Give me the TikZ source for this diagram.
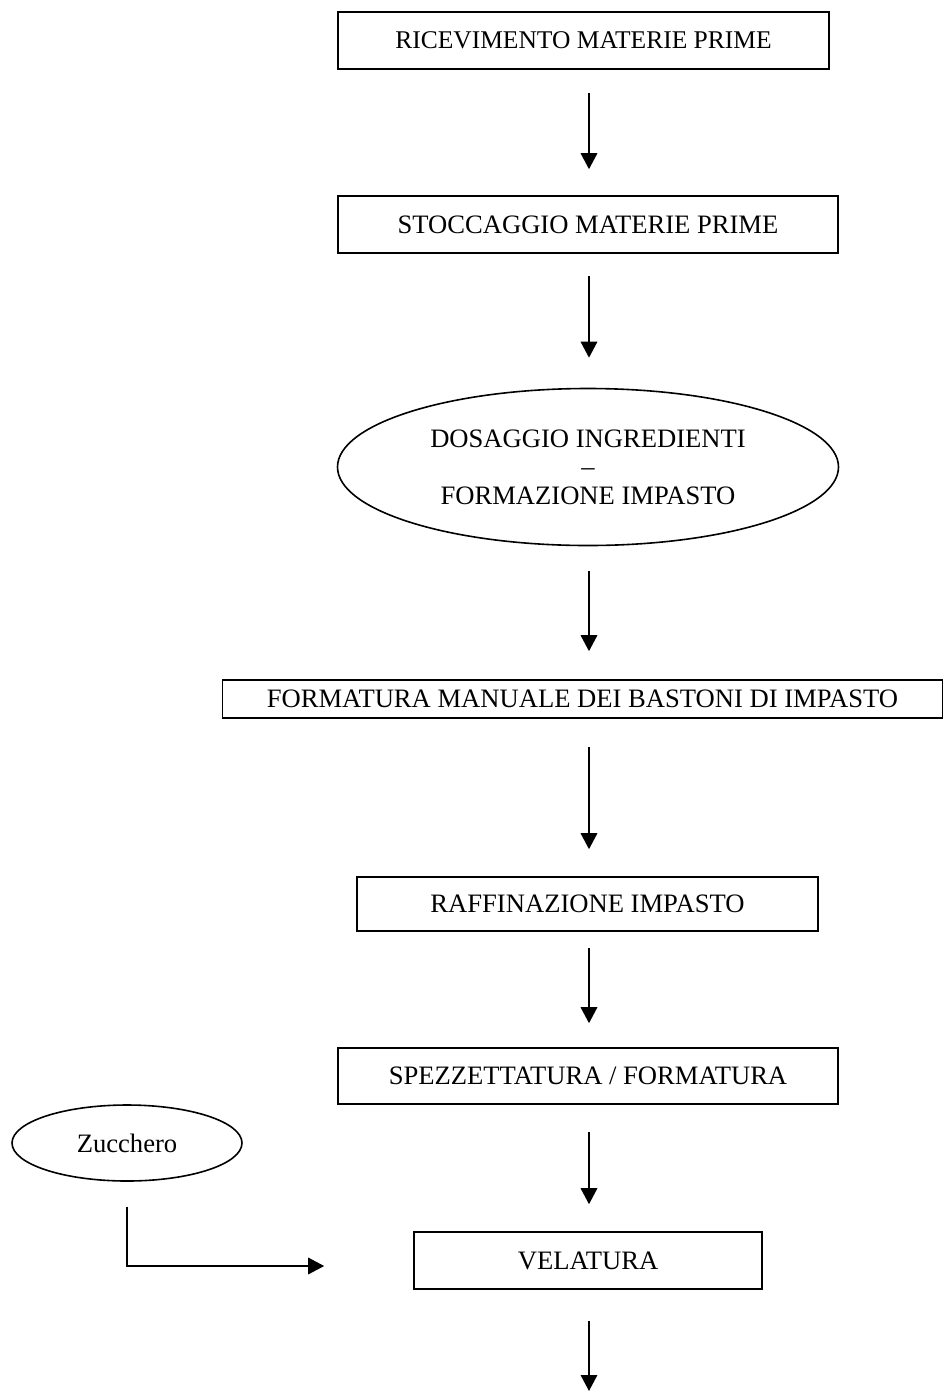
\documentclass[tikz,border=0pt]{standalone}
\usepackage{fontspec}
\setmainfont{Liberation Serif}
\usetikzlibrary{arrows.meta,shapes.geometric}
\begin{document}
\begin{tikzpicture}[x=1pt,y=-1pt,
  every node/.style={font=\fontsize{26.6}{28.5}\selectfont, inner sep=0pt, align=center},
  box/.style={draw, line width=1.6pt, rectangle},
  oval/.style={draw, line width=1.6pt, ellipse},
  arr/.style={line width=1.7pt, -{Triangle[width=16.5pt,length=16pt]}}]
\useasboundingbox (0,0) rectangle (944,1393);
\node[box, minimum width=491pt, minimum height=57pt, font=\fontsize{25.5}{28.5}\selectfont] (b1) at (583.5,40.5) {RICEVIMENTO MATERIE PRIME};
\node[box, minimum width=500pt, minimum height=57pt] (b2) at (588,224.5) {STOCCAGGIO MATERIE PRIME};
\node[oval, minimum width=501pt, minimum height=157pt] (e1) at (588,467) {DOSAGGIO INGREDIENTI\\–\\FORMAZIONE IMPASTO};
\node[box, minimum width=720pt, minimum height=38pt] (b4) at (582.5,699) {FORMATURA MANUALE DEI BASTONI DI IMPASTO};
\node[box, minimum width=461pt, minimum height=54pt] (b5) at (587.5,904) {RAFFINAZIONE IMPASTO};
\node[box, minimum width=500pt, minimum height=56pt] (b6) at (588,1076) {SPEZZETTATURA / FORMATURA};
\node[oval, minimum width=230pt, minimum height=76pt] (zuc) at (127,1143) {Zucchero};
\node[box, minimum width=348pt, minimum height=57pt] (vel) at (588,1260.5) {VELATURA};
\coordinate (ax) at (589,0);
\coordinate (end) at (589,1391);
\draw[arr, shorten <=23pt, shorten >=26pt] (b1.south -| ax) -- (b2.north -| ax);
\draw[arr, shorten <=22pt, shorten >=30pt] (b2.south -| ax) -- (e1.north -| ax);
\draw[arr, shorten <=25pt, shorten >=28pt] (e1.south -| ax) -- (b4.north -| ax);
\draw[arr, shorten <=28pt, shorten >=27pt] (b4.south -| ax) -- (b5.north -| ax);
\draw[arr, shorten <=16pt, shorten >=24pt] (b5.south -| ax) -- (b6.north -| ax);
\draw[arr, shorten <=27pt, shorten >=27pt] (b6.south -| ax) -- (vel.north -| ax);
\draw[arr, shorten <=31pt] (vel.south -| ax) -- (end);
\draw[arr, shorten <=25pt, shorten >=89pt] (zuc.south) |- ([yshift=-5.5pt]vel.west);
\end{tikzpicture}
\end{document}
